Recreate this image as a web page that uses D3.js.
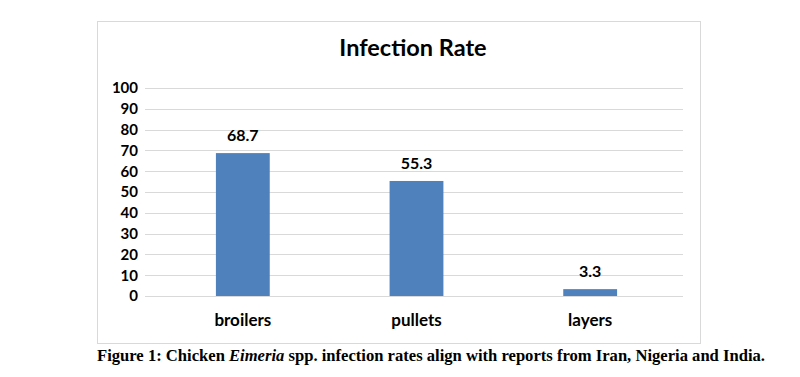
<!DOCTYPE html>
<html>
<head>
<meta charset="utf-8">
<script src="https://cdn.jsdelivr.net/npm/d3@7"></script>
<style>
  body { margin: 0; background: #fff; }
  svg { display: block; }
</style>
</head>
<body>
<div id="vis"></div>
<script>
var categories = ['broilers', 'pullets', 'layers'];
var rates = [68.7, 55.3, 3.3];
var yTicks = [0, 10, 20, 30, 40, 50, 60, 70, 80, 90, 100];

var width = 800;
var height = 377;
var labelFont = 'Lato, "Open Sans", sans-serif';

var svg = d3.select('#vis')
  .append('svg')
  .attr('width', width)
  .attr('height', height);

// chart frame
svg.append('rect')
  .attr('x', 97.5)
  .attr('y', 21.5)
  .attr('width', 603)
  .attr('height', 322)
  .attr('fill', '#fff')
  .attr('stroke', '#d9d9d9')
  .attr('stroke-width', 1);

var x = d3.scaleBand()
  .domain(categories)
  .range([156, 677])
  .paddingInner(0.69)
  .paddingOuter(0.345);

var y = d3.scaleLinear()
  .domain([0, 100])
  .range([296, 88]);

// grid lines
svg.append('g')
  .selectAll('line')
  .data(yTicks)
  .enter()
  .append('line')
  .attr('x1', 145)
  .attr('x2', 683)
  .attr('y1', function (d) { return Math.round(y(d)) + 0.5; })
  .attr('y2', function (d) { return Math.round(y(d)) + 0.5; })
  .attr('stroke', '#d9d9d9')
  .attr('stroke-width', 1);

// y axis labels
var yAxis = d3.axisLeft(y)
  .tickValues(yTicks)
  .tickSize(0)
  .tickPadding(0);

var yg = svg.append('g')
  .attr('transform', 'translate(138,0)')
  .call(yAxis);
yg.select('.domain').remove();
yg.selectAll('text')
  .attr('font-family', labelFont)
  .attr('font-weight', 'bold')
  .attr('font-size', 15)
  .attr('fill', '#000');

// bars
svg.append('g')
  .selectAll('rect')
  .data(rates)
  .enter()
  .append('rect')
  .attr('x', function (d, i) { return x(categories[i]); })
  .attr('y', function (d) { return y(d); })
  .attr('width', x.bandwidth())
  .attr('height', function (d) { return y(0) - y(d); })
  .attr('fill', '#4f81bd');

// value labels
svg.append('g')
  .selectAll('text')
  .data(rates)
  .enter()
  .append('text')
  .attr('x', function (d, i) { return x(categories[i]) + x.bandwidth() / 2; })
  .attr('y', function (d) { return y(d) - 12; })
  .attr('text-anchor', 'middle')
  .attr('font-family', labelFont)
  .attr('font-weight', 'bold')
  .attr('font-size', 16)
  .attr('fill', '#000')
  .text(function (d) { return d; });

// x axis labels
var xAxis = d3.axisBottom(x).tickSize(0).tickPadding(0);
var xg = svg.append('g')
  .attr('transform', 'translate(0,314)')
  .call(xAxis);
xg.select('.domain').remove();
xg.selectAll('text')
  .attr('font-family', labelFont)
  .attr('font-weight', 'bold')
  .attr('font-size', 17)
  .attr('fill', '#000');

// title
svg.append('text')
  .attr('x', 413)
  .attr('y', 56)
  .attr('text-anchor', 'middle')
  .attr('font-family', labelFont)
  .attr('font-weight', 'bold')
  .attr('font-size', 23.5)
  .attr('fill', '#000')
  .text('Infection Rate');

// caption
var cap = svg.append('text')
  .attr('x', 431)
  .attr('y', 361)
  .attr('text-anchor', 'middle')
  .attr('font-family', '"Liberation Serif", "Times New Roman", serif')
  .attr('font-weight', 'bold')
  .attr('font-size', 16.6)
  .attr('fill', '#000');
cap.append('tspan').text('Figure 1: Chicken ');
cap.append('tspan').attr('font-style', 'italic').text('Eimeria');
cap.append('tspan').text(' spp. infection rates align with reports from Iran, Nigeria and India.');
</script>
</body>
</html>
